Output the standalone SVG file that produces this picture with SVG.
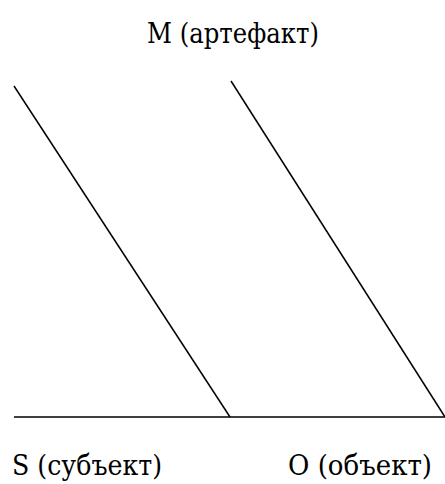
<svg xmlns="http://www.w3.org/2000/svg" width="445" height="484" viewBox="0 0 445 484">
<style>
.t{font-family:'DejaVu Serif',serif;font-size:27px;fill:#000}
.l{stroke:#000;stroke-width:1.5;fill:none}
</style>
<rect width="445" height="484" fill="#fff"/>
<g id="connectors">
<line class="l" x1="14" y1="86" x2="230" y2="417"/>
<line class="l" x1="231" y1="81" x2="445" y2="417"/>
<line class="l" x1="14" y1="417" x2="445" y2="417"/>
</g>
<g id="M"><text class="t" x="147" y="43" textLength="172" lengthAdjust="spacingAndGlyphs">M (артефакт)</text></g>
<g id="S"><text class="t" x="12" y="475" textLength="150" lengthAdjust="spacingAndGlyphs">S (субъект)</text></g>
<g id="O"><text class="t" x="288" y="475" textLength="144" lengthAdjust="spacingAndGlyphs">O (объект)</text></g>
</svg>
